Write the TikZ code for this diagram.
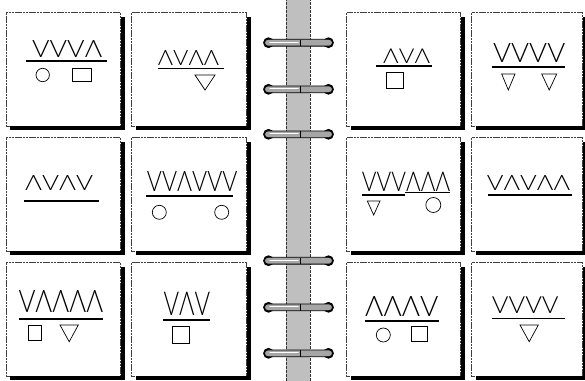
\documentclass[tikz,border=0pt]{standalone}
\usepackage{fontspec}
\usepackage{graphicx}
\newfontfamily\lightf{Lato Light}
\tikzset{
  cardbox/.style={fill=white, draw=black!75, line width=0.6pt, dash pattern=on 2.2pt off 0.6pt},
  shadowfill/.style={fill=black},
  rulebar/.style={line width=1.6pt},
  symb/.style={draw=black, line width=0.7pt},
  glyphs/.style={inner sep=0pt, anchor=north west},
  spine/.style={fill=black!25},
  spineedge/.style={draw=black!80, line width=0.6pt, dash pattern=on 3pt off 1pt},
  ringend/.style={fill=black},
  ringbody/.style={fill=black!35, draw=black, line width=0.8pt, rounded corners=3.4pt},
  ringlight/.style={draw=white, line width=1.2pt, line cap=round},
}
\begin{document}
\begin{tikzpicture}[x=1pt, y=-1pt]
\useasboundingbox (0,0) rectangle (585,380);
% spine
\fill[spine] (286,-2) rectangle (310,382);
\draw[spineedge] (286,-2) -- (286,382);
\draw[spineedge] (310,-2) -- (310,382);
% rings
\foreach \n/\yy in {ring1/42.7, ring2/89.3, ring3/134.3, ring4/260.7, ring5/307.3, ring6/353.3}{
  \coordinate (\n) at (298,\yy);
  \fill[ringend] (268.5,\yy) circle (5.4);
  \fill[ringend] (328.5,\yy) circle (5.4);
  \path[ringbody] (264.5,\yy-3.4) rectangle (332.5,\yy+3.4);
  \draw[ringlight] (270,\yy-0.6) -- (298,\yy-0.6);
  \draw[black, line width=0.6pt] (300,\yy-3.2) -- (300,\yy+3.2);
}
% cards
\foreach \n/\xa/\ya/\xb/\yb in {
  c11/6/12.7/120.7/126, c12/131.7/12.7/246.7/126, c13/346.7/12.7/460.7/126, c14/471.7/12.7/582.7/126,
  c21/6/137.7/120.7/251, c22/131.7/137.7/246.7/251, c23/346.7/137.7/460.7/251, c24/471.7/137.7/582.7/251,
  c31/6/262.7/120.7/376, c32/131.7/262.7/246.7/376, c33/346.7/262.7/460.7/376, c34/471.7/262.7/582.7/376}{
  \path[cardbox] (\xa,\ya) rectangle (\xb,\yb);
  \fill[shadowfill] (\xb+0.3,\ya+4) rectangle (\xb+4.3,\yb+4);
  \fill[shadowfill] (\xa+4,\yb+0.3) rectangle (\xb+4.3,\yb+4);
  \coordinate (\n) at ({(\xa+\xb)/2},{(\ya+\yb)/2});
}
% card 11
\node[glyphs] (t11) at (32,40) {\resizebox{70pt}{17pt}{\lightf VVVΛ}};
\draw[rulebar] (26,60.7) -- (106.7,60.7);
\draw[symb] (42.7,75) circle (6.7);
\draw[symb] (72.7,68.3) rectangle (91.7,81.7);
% card 12
\node[glyphs] (t12) at (157.7,50) {\resizebox{61.3pt}{15pt}{\lightf ΛVΛΛ}};
\draw[rulebar] (157.7,68.3) -- (224,68.3);
\draw[symb] (195,75) -- (215,75) -- (205,90) -- cycle;
% card 13
\node[glyphs] (t13) at (383,49) {\resizebox{47pt}{14.5pt}{\lightf ΛVΛ}};
\draw[rulebar] (376,65.7) -- (431.7,65.7);
\draw[symb] (386,72.7) rectangle (403,88.3);
% card 14
\node[glyphs] (t14) at (493,43) {\resizebox{72pt}{19pt}{\lightf VVVV}};
\draw[rulebar] (491.7,66.7) -- (565,66.7);
\draw[symb] (501.7,74) -- (515,74) -- (508.3,90) -- cycle;
\draw[symb] (541.7,74) -- (556.7,74) -- (549.2,90) -- cycle;
% card 21
\node[glyphs] (t21) at (25,175) {\resizebox{68pt}{15pt}{\lightf ΛVΛV}};
\draw[rulebar] (24,201) -- (99,201);
% card 22
\node[glyphs] (t22) at (146.7,171.7) {\resizebox{90.6pt}{20pt}{\lightf VVΛVVV}};
\draw[rulebar] (146,195.7) -- (232.7,195.7);
\draw[symb] (159.3,212.3) circle (7);
\draw[symb] (221.7,212.3) circle (7);
% card 23
\node[glyphs] (t23) at (361.7,171.7) {\resizebox{88.3pt}{19.3pt}{\lightf VVVΛΛΛ}};
\draw[rulebar] (361.7,195) -- (405,195);
\draw[rulebar] (405,192.3) -- (450,192.3);
\draw[symb] (367.3,201) -- (380,201) -- (373.7,215) -- cycle;
\draw[symb] (433.3,205) circle (7.5);
% card 24
\node[glyphs] (t24) at (486.7,175) {\resizebox{83.3pt}{15pt}{\lightf VΛVΛΛ}};
\draw[rulebar] (488,195) -- (571.7,195);
% card 31
\node[glyphs] (t31) at (18.3,290) {\resizebox{84.7pt}{22pt}{\lightf VΛΛΛΛ}};
\draw[rulebar] (19,319) -- (103,319);
\draw[symb] (28,325) rectangle (41.7,340.7);
\draw[symb] (60,325) -- (78.3,325) -- (69.2,341.7) -- cycle;
% card 32
\node[glyphs] (t32) at (163.3,291.7) {\resizebox{46.7pt}{23.3pt}{\lightf VΛV}};
\draw[rulebar] (163.3,320) -- (210,320);
\draw[symb] (172.7,326) rectangle (189.3,343.3);
% card 33
\node[glyphs] (t33) at (365,296.7) {\resizebox{73.3pt}{20pt}{\lightf ΛΛΛV}};
\draw[rulebar] (365,320.7) -- (439.3,320.7);
\draw[symb] (383.3,335) circle (7);
\draw[symb] (411.7,326.7) rectangle (427.3,341.7);
% card 34
\node[glyphs] (t34) at (491.7,296.7) {\resizebox{66.7pt}{16.7pt}{\lightf VVVV}};
\draw[rulebar] (491.7,318.3) -- (565,318.3);
\draw[symb] (520,325) -- (538.3,325) -- (529.2,341.7) -- cycle;
\end{tikzpicture}
\end{document}
